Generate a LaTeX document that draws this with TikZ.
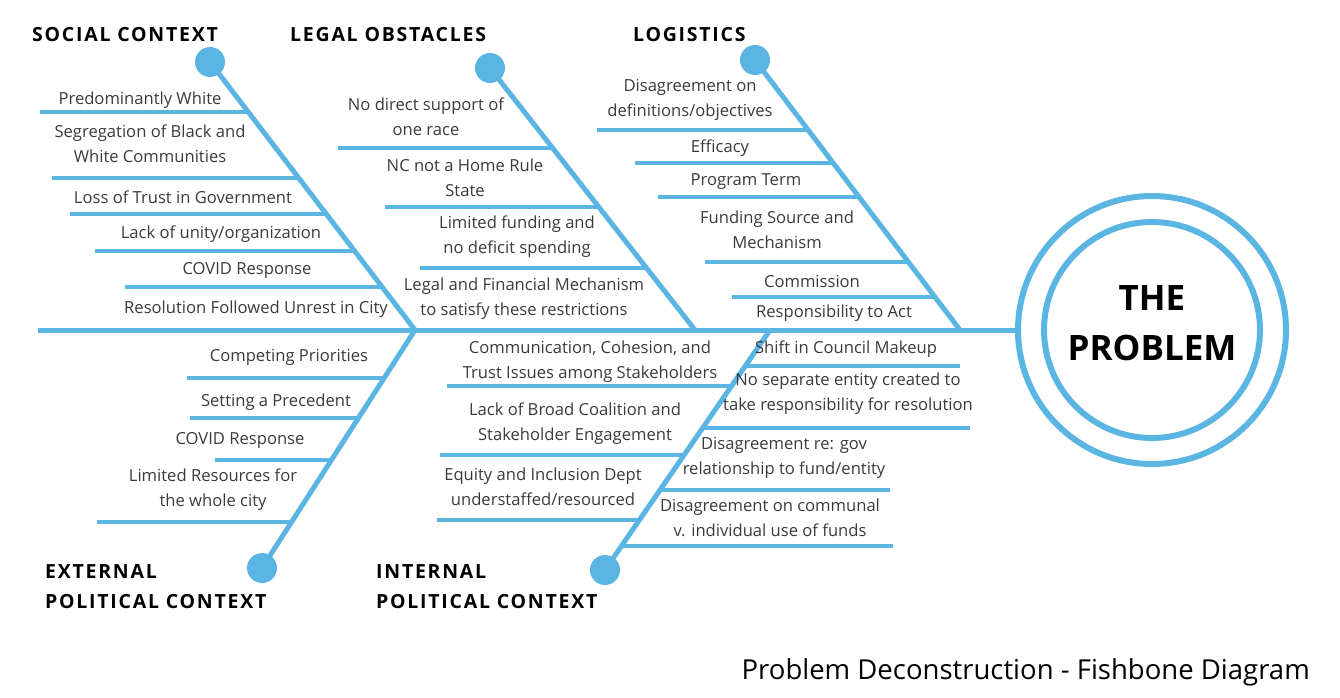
\documentclass[tikz,border=0pt]{standalone}
\usepackage{fontspec}
\setmainfont{Open Sans}
\begin{document}
\begin{tikzpicture}[x=1pt,y=-1pt,
  bone/.style={line width=5pt,color=fb},
  sub/.style={line width=4pt,color=fb},
  t/.style={font=\fontsize{16.6}{25}\selectfont,text=txt,align=center,inner sep=0},
  h/.style={font=\fontsize{19.5}{30}\selectfont\bfseries\addfontfeature{LetterSpace=9},text=black,align=left,inner sep=0},
  dot/.style={circle,fill=fb,minimum size=30pt,inner sep=0}]
\definecolor{fb}{HTML}{5BB5E3}
\definecolor{txt}{HTML}{3A3A3A}
\useasboundingbox (0,0) rectangle (1340,698);
% spine & head
\coordinate (s0) at (38,330); \coordinate (s1) at (1017,330);
\draw[bone] (s0) -- (s1);
\node[circle,draw=fb,line width=6pt,minimum size=268pt] (head) at (1152,330) {};
\node[circle,draw=fb,line width=6pt,minimum size=216pt] (headin) at (1152,330) {};
\node[font=\fontsize{35}{50}\selectfont\bfseries,align=center,inner sep=0] (prob) at (1152,323) {THE\\PROBLEM};
% bones
\node[dot] (d1) at (210,62) {}; \coordinate (j1) at (415,330);
\node[dot] (d2) at (490,68) {}; \coordinate (j2) at (695,330);
\node[dot] (d3) at (755,60) {}; \coordinate (j3) at (960,330);
\node[dot] (d4) at (262,568) {}; \coordinate (j4) at (415,330);
\node[dot] (d5) at (605,570) {}; \coordinate (j5) at (770,330);
\foreach \a/\b in {d1/j1,d2/j2,d3/j3,d4/j4,d5/j5} \draw[bone] (\a.center) -- (\b);
% sub lines
\foreach \xa/\xb/\y in {40/248/112,52/299/178,70/326/214,95/355/251,125/382/287,
  338/553/148,385/599/207,420/646/268,
  597/808/130,635/833/163,658/859/197,705/908/262,732/935/297,
  187/384/378,190/358/418,215/331/460,97/292/522,
  447/731/386,440/684/455,437/639/520,
  745/960/366,703/970/428,660/890/490,621/893/546}
  \draw[sub] (\xa,\y) -- (\xb,\y);
% headers
\node[h,anchor=west] (H1) at (32,35) {SOCIAL CONTEXT};
\node[h,anchor=west] (H2) at (290,35) {LEGAL OBSTACLES};
\node[h,anchor=west] (H3) at (633,35) {LOGISTICS};
\node[h,anchor=west] (H4) at (45,587) {EXTERNAL\\POLITICAL CONTEXT};
\node[h,anchor=west] (H5) at (376,587) {INTERNAL\\POLITICAL CONTEXT};
% texts
\node[t] (a1) at (140,100) {Predominantly White};
\node[t] (a2) at (150,144) {Segregation of Black and\\White Communities};
\node[t] (a3) at (183,197) {Loss of Trust in Government};
\node[t] (a4) at (221,234) {Lack of unity/organization};
\node[t] (a5) at (247,270) {COVID Response};
\node[t] (a6) at (256,309) {Resolution Followed Unrest in City};
\node[t] (b1) at (426,117) {No direct support of\\one race};
\node[t] (b2) at (465,178) {NC not a Home Rule\\State};
\node[t] (b3) at (517,237) {Limited funding and\\no deficit spending};
\node[t] (b4) at (524,299) {Legal and Financial Mechanism\\to satisfy these restrictions};
\node[t] (c1) at (690,100) {Disagreement on\\definitions/objectives};
\node[t] (c2) at (720,148) {Efficacy};
\node[t] (c3) at (746,182) {Program Term};
\node[t] (c4) at (777,230) {Funding Source and\\Mechanism};
\node[t] (c5) at (812,281) {Commission};
\node[t] (c6) at (834,313) {Responsibility to Act};
\node[t] (e1) at (289,357) {Competing Priorities};
\node[t] (e2) at (276,402) {Setting a Precedent};
\node[t] (e3) at (240,440) {COVID Response};
\node[t] (e4) at (213,490) {Limited Resources for\\the whole city};
\node[t] (i1) at (590,362) {Communication, Cohesion, and\\Trust Issues among Stakeholders};
\node[t] (i2) at (575,424) {Lack of Broad Coalition and\\Stakeholder Engagement};
\node[t] (i3) at (543,487) {Equity and Inclusion Dept\\understaffed/resourced};
\node[t] (r1) at (846,349) {Shift in Council Makeup};
\node[t] (r2) at (848,394) {No separate entity created to\\take responsibility for resolution};
\node[t] (r3) at (784,458) {Disagreement re: gov\\relationship to fund/entity};
\node[t] (r4) at (770,518) {Disagreement on communal\\v. individual use of funds};
\node[font=\fontsize{27.5}{30}\selectfont,text=black,anchor=east,inner sep=0] (cap) at (1310,672) {Problem Deconstruction - Fishbone Diagram};
\end{tikzpicture}
\end{document}
